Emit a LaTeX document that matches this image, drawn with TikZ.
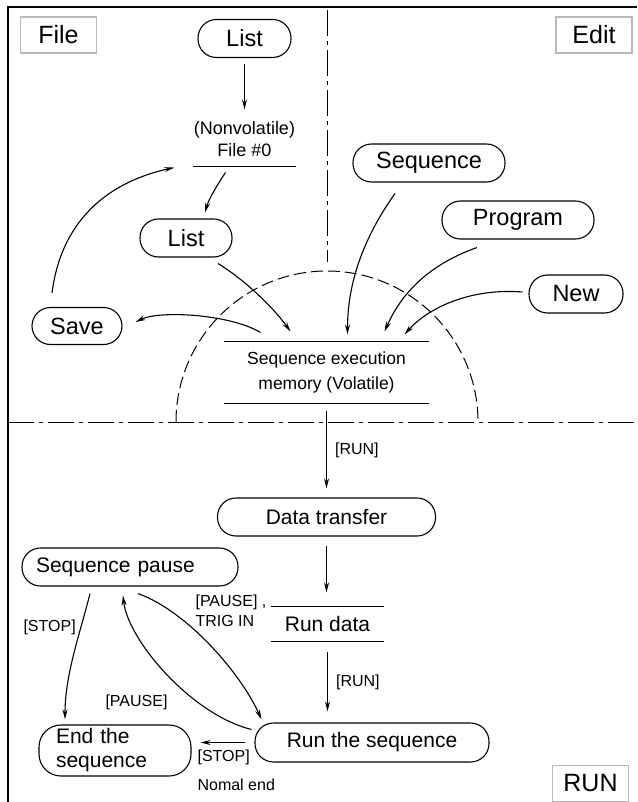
\documentclass[tikz,border=0pt]{standalone}
\usepackage{fontspec}
\setmainfont{Liberation Sans}
\usetikzlibrary{positioning, arrows.meta, calc}

\begin{document}
\begin{tikzpicture}[x=1pt, y=-1pt, line width=1.1pt, >={Stealth[length=10pt,width=5pt]},
  pill/.style={draw, rounded corners=18.5pt, minimum height=38pt, inner sep=0pt,
               font=\fontsize{23.5}{28}\selectfont},
  runpill/.style={pill, font=\fontsize{21}{24}\selectfont},
  tag/.style={draw=gray!55, line width=1.6pt, minimum width=76pt, minimum height=36pt,
              inner sep=0pt, font=\fontsize{25}{30}\selectfont},
  store/.style={inner sep=0pt, align=center},
  lbl/.style={inner sep=0pt, font=\fontsize{16}{20}\selectfont},
  dashdot/.style={line width=1pt, dash pattern=on 26pt off 5pt on 4pt off 5pt},
  zone/.style={line width=1pt, dash pattern=on 12pt off 5pt}]
  \useasboundingbox (0,0) rectangle (637,802);
  % frame and zones
  \draw (637,7) -- (8,7) -- (8,802);
  \draw[dashdot] (327.5,10) -- (327.5,262);
  \draw[dashdot] (8,422) -- (637,422);
  \draw[zone] (176,422) arc[start angle=180, end angle=360, radius=151];

  \node[tag] (tfile) at (58.5,35) {File};
  \node[tag] (tedit) at (594,35) {Edit};
  \node[tag] (trun) at (590.5,783.5) {RUN};

  % file side
  \node[pill, minimum width=93pt] (listA) at (244.5,38.5) {List};
  \node[store, font=\fontsize{18}{22}\selectfont, minimum width=76pt, minimum height=54pt]
    (file0) at (244.5,139) {(Nonvolatile)\\File \#0};
  \draw (file0.south west) -- (file0.south east);
  \node[pill, minimum width=92pt] (listB) at (186,238) {List};
  \node[pill, minimum width=90pt, minimum height=37pt] (save) at (77,326) {Save};

  % edit side
  \node[pill, minimum width=152pt] (seq) at (429,163) {Sequence};
  \node[pill, minimum width=152pt] (prog) at (518,220) {Program};
  \node[pill, minimum width=94pt] (new) at (576,294) {New};

  \node[store, font=\fontsize{17.5}{25}\selectfont, minimum width=204pt, minimum height=61pt]
    (mem) at (326.5,372.5) {Sequence execution\\memory (Volatile)};
  \draw (mem.north west) -- (mem.north east);
  \draw (mem.south west) -- (mem.south east);

  \draw[->, shorten <=6pt, shorten >=2pt] (listA.south) -- (file0.north);
  \draw[->] ($(file0.south)+(-19,6)$) .. controls +(-8,12) and +(4,-14) .. ($(listB.north)+(19,-6)$);
  \draw[->] ($(save.north)+(-25,-14)$) .. controls +(10,-78) and +(-60,13) .. ($(file0.south west)+(-19,1)$);
  \draw[->] ($(listB.south)+(32,6)$) .. controls +(25,15) and +(-18,-25) .. ($(mem.north)+(-36,-10)$);
  \draw[->] ($(mem.north)+(-66,-9)$) .. controls +(-30,-18) and +(25,-12) .. ($(save.east)+(13,-4)$);
  \draw[->] ($(seq.south)+(-34,11)$) .. controls +(-25,35) and +(0,-60) .. ($(mem.north)+(21,-7)$);
  \draw[->] ($(prog.south)+(-41,8)$) .. controls +(-40,14) and +(20,-45) .. ($(mem.north)+(58,-10)$);
  \draw[->] ($(new.west)+(-6,-2)$) .. controls +(-50,-4) and +(25,-28) .. ($(mem.north)+(78,-7)$);

  % run side
  \node[runpill, minimum width=218pt] (dt) at (326.5,517) {Data transfer};
  \node[store, font=\fontsize{21}{24}\selectfont, minimum width=111pt, minimum height=34pt]
    (rundata) at (327.5,624) {Run data};
  \draw (rundata.north west) -- (rundata.north east);
  \draw (rundata.south west) -- (rundata.south east);
  \node[runpill, minimum width=234pt, minimum height=39pt] (runseq) at (372,742.5) {Run the sequence};
  \node[runpill, minimum width=216pt, text width=188pt, align=left] (pause) at (130,567) {Sequence pause};
  \node[runpill, minimum width=152pt, minimum height=51pt, rounded corners=22pt, align=left,
        text width=118pt] (endseq) at (115,750.5) {End the\\sequence};

  \draw[->, shorten <=7pt, shorten >=9pt] (mem.south) -- (dt.north)
    node[lbl, midway, right=8pt] {[RUN]};
  \draw[->, shorten <=9pt, shorten >=14pt] (dt.south) -- (dt.south |- rundata.north);
  \draw[->, shorten <=10pt, shorten >=11pt] (rundata.south) -- (rundata.south |- runseq.north)
    node[lbl, midway, right=8pt] {[RUN]};
  \draw[->, shorten <=9pt, shorten >=9pt] (runseq.west) -- (runseq.west -| endseq.east);
  \node[lbl, anchor=west] (stopA) at (197,757) {[STOP]};
  \node[lbl, anchor=west] (nomal) at (197,785) {Nomal end};

  \draw[->] ($(pause.south)+(-40,7)$) .. controls +(-10,40) and +(0,-45) .. ($(endseq.north)+(-50,-5)$);
  \node[lbl, anchor=west] (stopB) at (23,627) {[STOP]};
  \draw[->] ($(runseq.west)+(-3,-13)$) .. controls +(-60,-15) and +(5,45) .. ($(pause.south)+(-7,9)$);
  \node[lbl, anchor=west] (pauseA) at (105,702) {[PAUSE]};
  \draw[->] ($(pause.south)+(8,7)$) .. controls +(50,18) and +(-20,-45) .. ($(runseq.north west)+(7,-3)$);
  \node[lbl, anchor=west, align=left] (pauseB) at (195,611) {[PAUSE] ,\\TRIG IN};
\end{tikzpicture}
\end{document}
